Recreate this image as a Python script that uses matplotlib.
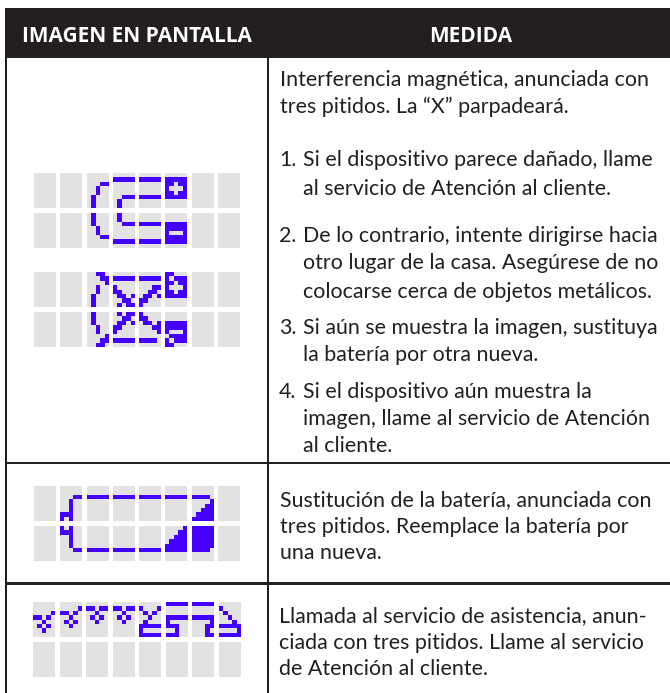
import matplotlib
matplotlib.use("Agg")
import matplotlib.pyplot as plt
from matplotlib.patches import Rectangle

W, H = 670, 693
BLUE = "#4300ff"
GREY = "#e2e2e2"
INK = "#231f20"
FONT = "Lato"
BODY = 15.4

headers = ["IMAGEN EN PANTALLA", "MEDIDA"]
header_x = [137, 470.5]

body_lines = [
    (280, 86, "Interferencia magnética, anunciada con"),
    (280, 113, "tres pitidos. La “X” parpadeará."),
    (279, 166, "1."), (303, 166, "Si el dispositivo parece dañado, llame"),
    (303, 195, "al servicio de Atención al cliente."),
    (279, 242, "2."), (303, 242, "De lo contrario, intente dirigirse hacia"),
    (303, 269, "otro lugar de la casa. Asegúrese de no"),
    (303, 298, "colocarse cerca de objetos metálicos."),
    (279, 334, "3."), (303, 334, "Si aún se muestra la imagen, sustituya"),
    (303, 361, "la batería por otra nueva."),
    (279, 398, "4."), (303, 398, "Si el dispositivo aún muestra la"),
    (303, 425, "imagen, llame al servicio de Atención"),
    (303, 452, "al cliente."),
    (280, 506, "Sustitución de la batería, anunciada con"),
    (280, 533, "tres pitidos. Reemplace la batería por"),
    (280, 559, "una nueva."),
    (279, 622, "Llamada al servicio de asistencia, anun-"),
    (279, 649, "ciada con tres pitidos. Llame al servicio"),
    (279, 675, "de Atención al cliente."),
]

# Each LCD cell: 8 rows of 5 columns, '#' = lit
icon1_top = [
    ["....."]*8, ["....."]*8,
    [".....", ".....", "...##", "..#..", "..#..", ".#...", ".#...", ".#..."],
    [".....", "#####", ".....", ".....", ".....", "..###", ".#...", ".#..."],
    [".....", "#####", ".....", ".....", ".....", "#####", ".....", "....."],
    [".....", "#####", "##.##", "#...#", "##.##", "#####", ".....", "....."],
    ["....."]*8, ["....."]*8,
]
icon1_bot = [
    ["....."]*8, ["....."]*8,
    [".#...", ".#...", ".#...", "..#..", "..#..", "...##", ".....", "....."],
    [".#...", ".#...", "..###", ".....", ".....", ".....", "#####", "....."],
    [".....", ".....", "#####", ".....", ".....", ".....", "#####", "....."],
    [".....", ".....", "#####", "#####", "#...#", "#####", "#####", "....."],
    ["....."]*8, ["....."]*8,
]
icon2_top = [
    ["....."]*8, ["....."]*8,
    ["..##.", "...##", "....#", "..#..", "..#..", ".#...", ".#...", ".#..."],
    [".....", "#####", ".....", "#....", "##...", ".##.#", "..##.", ".#.##"],
    [".....", "#####", ".....", "...##", "..##.", ".##.#", "##...", "#...."],
    ["##...", "#.###", "##.##", "#...#", "##.##", "#####", ".....", "....."],
    ["....."]*8, ["....."]*8,
]
icon2_bot = [
    ["....."]*8, ["....."]*8,
    [".#...", ".#...", ".#...", "..#..", "..#..", "....#", "...##", "..##."],
    [".#.##", "..##.", ".##.#", "##...", "#....", ".....", "#####", "....."],
    ["#....", "##...", ".##.#", "...##", "....#", ".....", "####.", "....."],
    [".....", ".....", "#####", "#####", "#...#", ".####", "#.###", "##..."],
    ["....."]*8, ["....."]*8,
]
icon3_top = [
    ["....."]*8,
    [".....", ".....", "...##", "..#..", "..#..", "..#..", "###..", "#.#.."],
    [".....", ".....", "#####", ".....", ".....", ".....", ".....", "....."],
    [".....", ".....", "#####", ".....", ".....", ".....", ".....", "....."],
    [".....", ".....", "#####", ".....", ".....", ".....", ".....", "....."],
    [".....", ".....", "#####", ".....", ".....", ".....", ".....", "....."],
    [".....", ".....", "####.", "....#", "...##", "..###", ".####", "#####"],
    ["....."]*8,
]
icon3_bot = [
    ["....."]*8,
    ["#.#..", "###..", "..#..", "..#..", "..#..", "...##", ".....", "....."],
    [".....", ".....", ".....", ".....", ".....", "#####", ".....", "....."],
    [".....", ".....", ".....", ".....", ".....", "#####", ".....", "....."],
    [".....", ".....", ".....", ".....", ".....", "#####", ".....", "....."],
    ["....#", "...##", "..###", ".####", "#####", "#####", ".....", "....."],
    ["#####", "#####", "#####", "#####", "#####", "####.", ".....", "....."],
    ["....."]*8,
]
icon4_top = [
    [".....", ".....", "....#", "##.#.", "..#..", ".#.#.", "..#..", "....."],
    [".....", "....#", "##.#.", "..#..", ".#.#.", "..#..", ".....", "....."],
    [".....", "##.##", "..#..", ".#.#.", "..#..", ".....", ".....", "....."],
    [".....", "##.##", "..#..", ".#.#.", "..#..", ".....", ".....", "....."],
    [".....", "#...#", ".#.#.", "..#..", ".#...", "#####", "#....", "#####"],
    ["#####", ".....", ".....", "#####", "#....", "###..", "..#..", "###.."],
    ["#####", ".....", ".....", "#####", "....#", "...##", "...#.", "...##"],
    [".....", "#....", ".#...", "..#..", "...#.", "#####", "....#", "#####"],
]
icon4_bot = [["....."]*8 for _ in range(8)]

cell_x_a = [34, 60, 87, 113, 139, 165, 192, 218]
cell_x_b = [33, 60, 86, 113, 139, 166, 192, 219]
icon_blocks = [
    (173, 213, icon1_top, icon1_bot, cell_x_a),
    (272, 312, icon2_top, icon2_bot, cell_x_a),
    (486, 526, icon3_top, icon3_bot, cell_x_a),
    (602, 642, icon4_top, icon4_bot, cell_x_b),
]
CELL_W, CELL_H = 22, 35

fig = plt.figure(figsize=(W / 100, H / 100), dpi=100, facecolor="white")
ax = fig.add_axes([0, 0, 1, 1])
ax.set_xlim(0, W)
ax.set_ylim(H, 0)
ax.axis("off")


def rect(x, y, w, h, color, z=1):
    ax.add_patch(Rectangle((x, y), w, h, facecolor=color, edgecolor="none", zorder=z))


# table frame (open on the right)
rect(5, 7.5, W - 5, 50.7, INK, 3)
rect(5, 58, 2.4, H - 58, INK, 3)
rect(267, 58, 1.8, H - 58, INK, 3)
rect(5, 461.6, W - 5, 2.4, INK, 3)
rect(5, 582, W - 5, 2.6, INK, 3)

for t, x in zip(headers, header_x):
    ax.text(x, 42, t, color="white", family="Open Sans", weight="bold", fontsize=15.0,
            ha="center", va="baseline", zorder=4)

for x, y, t in body_lines:
    ax.text(x, y, t, color=INK, family=FONT, fontsize=BODY, ha="left", va="baseline", zorder=4)

for y_top, y_bot, top, bot, xs in icon_blocks:
    for y0, cells in ((y_top, top), (y_bot, bot)):
        for x0, cell in zip(xs, cells):
            rect(x0, y0, CELL_W, CELL_H, GREY, 1)
            for r, row in enumerate(cell):
                for c, ch in enumerate(row):
                    if ch == "#":
                        rect(x0 + c * CELL_W / 5, y0 + r * CELL_H / 8,
                             CELL_W / 5 + 0.05, CELL_H / 8 + 0.05, BLUE, 2)

fig.savefig("out.png", dpi=100, facecolor="white")
